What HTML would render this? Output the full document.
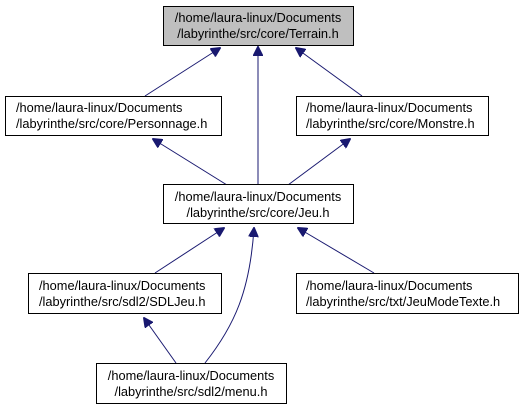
<!DOCTYPE html>
<html><head><style>body{margin:0;background:#fff}svg{display:block}</style></head><body>
<svg width="527" height="409" xmlns="http://www.w3.org/2000/svg" font-family="Liberation Sans, sans-serif" font-size="12.8">
<defs><marker id="a" markerWidth="10" markerHeight="10" refX="9" refY="5" orient="auto" markerUnits="userSpaceOnUse"><path d="M0,0 L10,5 L0,10 z" fill="#191970" stroke="#191970"/></marker></defs>
<g stroke="#191970" stroke-width="1" fill="none">
<line x1="145" y1="96" x2="220" y2="48" marker-end="url(#a)"/>
<line x1="258" y1="185" x2="258" y2="47" marker-end="url(#a)"/>
<line x1="362" y1="96" x2="296" y2="48" marker-end="url(#a)"/>
<line x1="227" y1="185" x2="153" y2="139" marker-end="url(#a)"/>
<line x1="288" y1="185" x2="350" y2="139" marker-end="url(#a)"/>
<line x1="155" y1="273" x2="224" y2="228" marker-end="url(#a)"/>
<path d="M205,363 C235,325 250,290 254,228" marker-end="url(#a)"/>
<line x1="374" y1="273" x2="298" y2="228" marker-end="url(#a)"/>
<line x1="176" y1="363" x2="144" y2="318" marker-end="url(#a)"/>
</g>
<g stroke="#000" stroke-width="1">
<rect x="163.5" y="6.5" width="190" height="39" fill="#bfbfbf"/>
<rect x="5.5" y="96.5" width="216" height="39" fill="#fff"/>
<rect x="296.5" y="96.5" width="192" height="39" fill="#fff"/>
<rect x="163.5" y="184.5" width="190" height="39" fill="#fff"/>
<rect x="28.5" y="273.5" width="193" height="40" fill="#fff"/>
<rect x="296.5" y="273.5" width="222" height="40" fill="#fff"/>
<rect x="96.5" y="363.5" width="190" height="40" fill="#fff"/>
</g>
<g fill="#000">
<text x="258" y="22" text-anchor="middle">/home/laura-linux/Documents</text>
<text x="258" y="38" text-anchor="middle">/labyrinthe/src/core/Terrain.h</text>
<text x="16" y="112">/home/laura-linux/Documents</text>
<text x="16" y="128">/labyrinthe/src/core/Personnage.h</text>
<text x="306" y="112">/home/laura-linux/Documents</text>
<text x="306" y="128">/labyrinthe/src/core/Monstre.h</text>
<text x="258" y="201" text-anchor="middle">/home/laura-linux/Documents</text>
<text x="258" y="217" text-anchor="middle">/labyrinthe/src/core/Jeu.h</text>
<text x="39" y="290">/home/laura-linux/Documents</text>
<text x="39" y="306">/labyrinthe/src/sdl2/SDLJeu.h</text>
<text x="306" y="290">/home/laura-linux/Documents</text>
<text x="306" y="306">/labyrinthe/src/txt/JeuModeTexte.h</text>
<text x="191" y="380" text-anchor="middle">/home/laura-linux/Documents</text>
<text x="191" y="396" text-anchor="middle">/labyrinthe/src/sdl2/menu.h</text>
</g>
</svg>
</body></html>
